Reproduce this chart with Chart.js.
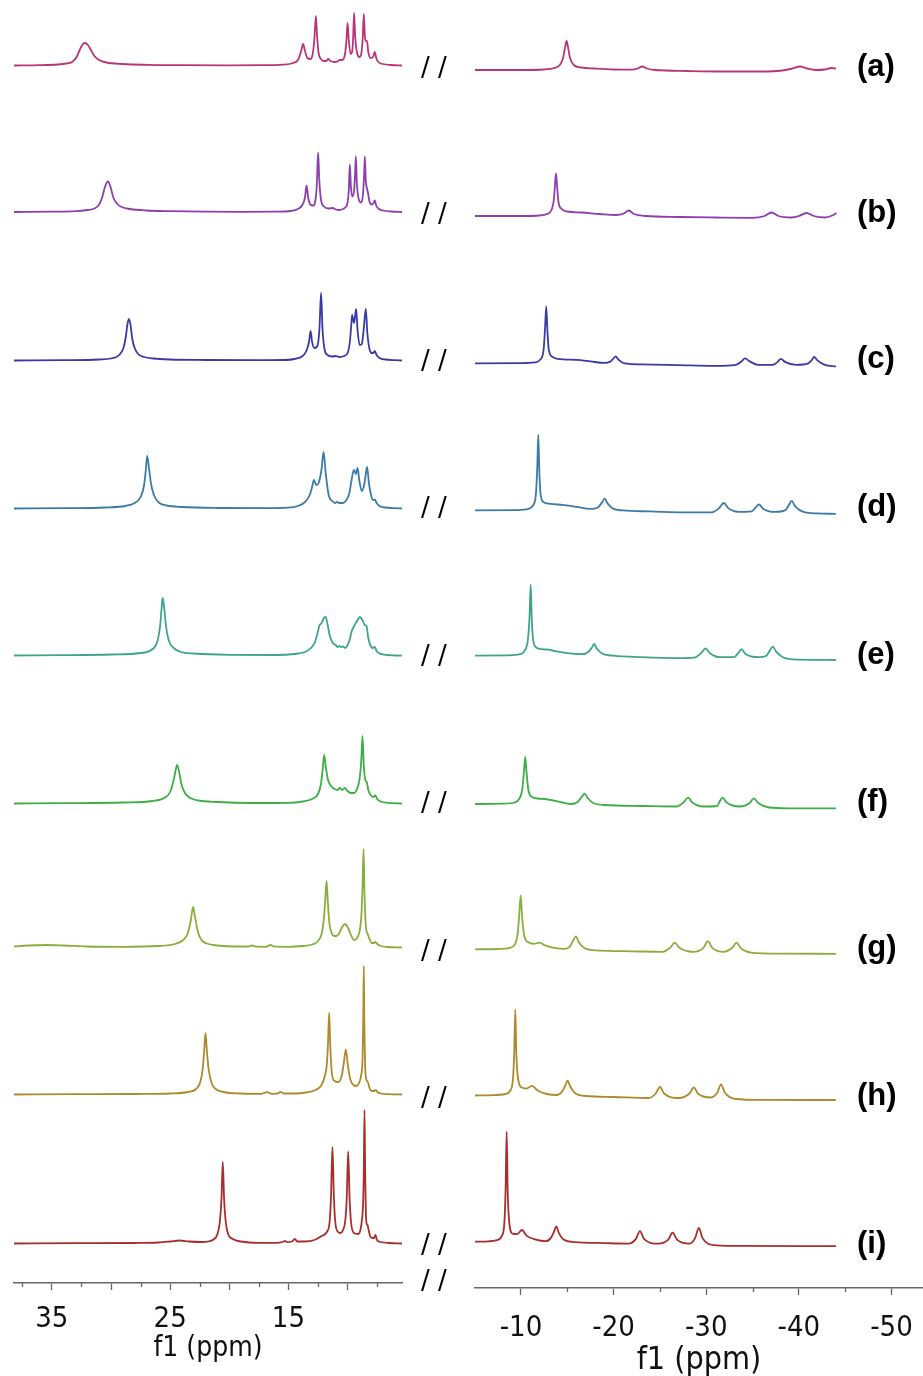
<!DOCTYPE html>
<html>
<head>
<meta charset="utf-8">
<script src="https://cdn.jsdelivr.net/npm/chart.js@4.4.0/dist/chart.umd.min.js"></script>
<style>
  body { margin: 0; background: #fff; overflow: hidden; }
  #wrap { position: relative; width: 923px; height: 1376px; }
  canvas { position: absolute; top: 0; }
  .lbl { position: absolute; left: 857px; height: 36px; line-height: 36px; font: bold 31px 'Liberation Sans', Arial, sans-serif; color: #000; }
  .brk { position: absolute; left: 421px; height: 30px; line-height: 30px; font: 26px 'DejaVu Sans', sans-serif; color: #000; white-space: pre; }
</style>
</head>
<body>
<div id="wrap">
  <canvas id="leftChart" width="460" height="1376" style="left:0px;width:460px;height:1376px"></canvas>
  <canvas id="rightChart" width="463" height="1376" style="left:460px;width:463px;height:1376px"></canvas>
</div>
<script>
// spectra: [ppm, intensity above baseline]
const aLeft = [[38.2,0.5],[36,0.8],[34.5,1.5],[33.8,2.5],[33.3,4],[32.9,9],[32.65,16],[32.4,21.5],[32.2,23],[31.95,21],[31.7,16],[31.4,10],[31.0,6],[30.4,3.5],[29,2],[27,1.2],[24,0.8],[20,0.6],[17,0.8],[15.5,1.3],[14.6,3],[14.2,6],[13.95,14],[13.76,22],[13.6,15],[13.4,8],[13.15,7],[12.95,12],[12.8,28],[12.68,50],[12.58,30],[12.45,13],[12.25,7],[12.0,5],[11.8,5],[11.64,7],[11.45,5],[11.1,4],[10.85,4.5],[10.66,6],[10.45,6],[10.22,12],[10.1,25],[10.0,43],[9.9,26],[9.75,12],[9.62,14],[9.53,28],[9.45,53],[9.36,30],[9.2,13],[9.0,9],[8.82,14],[8.72,28],[8.63,52],[8.54,30],[8.45,25],[8.36,25],[8.25,14],[8.05,8],[7.85,9],[7.7,14],[7.58,8],[7.4,4],[7.0,2],[6.3,1],[5.4,0.5]];
const bLeft = [[38.2,0.5],[35,0.8],[33,1.3],[32,2.5],[31.4,4],[31.0,8],[30.75,15],[30.5,26],[30.27,31],[30.05,26],[29.8,15],[29.5,9],[29.1,5.5],[28.4,3.5],[27,2],[25,1.3],[22,0.8],[19,0.6],[16,0.8],[14.8,1.5],[14.2,3.5],[13.8,8],[13.6,15],[13.47,27],[13.33,15],[13.15,8],[12.9,7],[12.72,12],[12.6,28],[12.49,60],[12.39,32],[12.25,13],[12.0,6],[11.6,4],[11.24,4.5],[11.0,3],[10.7,2.5],[10.4,3.5],[10.2,5],[10.0,10],[9.9,22],[9.81,48],[9.72,26],[9.6,16],[9.45,22],[9.36,40],[9.3,56],[9.22,30],[9.05,13],[8.85,10],[8.7,18],[8.6,38],[8.54,56],[8.46,32],[8.38,25],[8.28,20],[8.15,11],[7.95,8],[7.82,9],[7.7,12],[7.58,7],[7.4,4],[7.0,2],[6.3,1],[5.4,0.5]];
const cLeft = [[38.2,0.5],[34,0.8],[31,1.5],[30,2.5],[29.3,6],[28.95,13],[28.75,24],[28.62,36],[28.49,42],[28.35,36],[28.2,22],[28.0,13],[27.7,7],[27.2,4],[26.4,2.5],[25,1.5],[22,1],[18,0.8],[15.5,1],[14.5,2],[13.8,5],[13.45,11],[13.25,20],[13.13,30],[13.0,19],[12.8,13],[12.55,15],[12.38,32],[12.24,68],[12.12,32],[11.95,12],[11.7,6],[11.3,4.5],[11.0,5],[10.7,4],[10.3,5],[10.0,8],[9.82,18],[9.7,34],[9.62,46],[9.45,38],[9.28,52],[9.15,30],[8.98,16],[8.8,17],[8.65,30],[8.46,52],[8.33,28],[8.15,12],[7.95,8],[7.82,8],[7.7,10],[7.55,6],[7.3,3],[6.8,1.5],[6.0,0.8],[5.4,0.5]];
const dLeft = [[38.2,0.5],[34,0.8],[30.5,1.5],[28.8,3],[28,6],[27.5,12],[27.2,24],[27.05,40],[26.94,53],[26.8,42],[26.6,24],[26.3,12],[25.9,6],[25.3,3.5],[24,2],[21,1],[17,0.8],[15,1.3],[14.2,3],[13.6,7],[13.2,14],[13.0,22],[12.85,29],[12.65,24],[12.45,26],[12.2,40],[12.03,57],[11.85,36],[11.6,14],[11.3,8],[11.05,6],[10.88,7],[10.7,6],[10.4,6],[10.1,9],[9.85,16],[9.65,30],[9.47,39],[9.3,35],[9.16,41],[9.0,28],[8.8,18],[8.6,24],[8.45,36],[8.35,42],[8.2,26],[8.0,13],[7.85,9],[7.7,9.5],[7.55,6],[7.3,3],[6.8,1.5],[6.0,0.8],[5.4,0.5]];
const eLeft = [[38.2,0.5],[34,0.8],[30,1.5],[27.5,3],[26.6,6],[26.1,14],[25.85,30],[25.72,48],[25.64,58],[25.52,50],[25.35,30],[25.1,15],[24.7,8],[24.1,4],[23,2.5],[20,1.2],[16,1],[14.5,2],[13.6,4],[13.1,8],[12.75,14],[12.5,25],[12.4,30],[12.2,33],[12.0,38],[11.86,39],[11.7,32],[11.5,20],[11.25,13],[11.0,11],[10.85,9],[10.71,10],[10.55,9],[10.38,9.5],[10.2,8],[10.0,11],[9.8,17],[9.67,24],[9.45,30],[9.2,35],[8.96,39],[8.75,36],[8.55,31],[8.4,30],[8.25,18],[8.05,10],[7.85,8],[7.7,9],[7.55,5],[7.3,2.5],[6.8,1.2],[6.0,0.5],[5.4,0.3]];
const fLeft = [[38.2,0.5],[34,0.8],[29,1.5],[26.5,3],[25.5,6],[25.0,12],[24.7,24],[24.55,33],[24.41,39],[24.25,33],[24.05,20],[23.75,11],[23.3,6],[22.6,3.5],[21,2],[18,1],[15,1.2],[13.8,2.5],[13.0,5],[12.5,10],[12.25,20],[12.1,35],[11.98,49],[11.85,38],[11.65,24],[11.4,18],[11.1,15],[10.85,14],[10.66,16],[10.45,14],[10.23,16],[10.0,13],[9.75,11],[9.45,11],[9.2,15],[9.0,24],[8.85,42],[8.74,68],[8.63,38],[8.5,24],[8.38,22],[8.25,14],[8.05,9],[7.85,7],[7.64,8.5],[7.5,5],[7.2,2.5],[6.6,1.2],[5.4,0.5]];
const gLeft = [[38.2,1.5],[37,2.5],[35.5,3],[34,2.5],[32,1.5],[29,1.2],[26,2],[24.6,4],[23.9,8],[23.5,15],[23.25,28],[23.06,41],[22.88,30],[22.65,16],[22.35,8],[21.9,4.5],[21,2.5],[19.5,1.5],[18.4,1.5],[18.07,2.5],[17.7,1.3],[16.9,1.2],[16.51,3],[16.2,1.3],[15,1.2],[13.8,2],[13,3.5],[12.5,7],[12.2,14],[12.0,30],[11.88,50],[11.78,67],[11.68,48],[11.55,26],[11.35,15],[11.1,12],[10.93,12],[10.7,15],[10.45,21],[10.23,24],[10.0,21],[9.75,14],[9.55,9],[9.4,8],[9.2,10],[9.0,16],[8.85,30],[8.74,60],[8.65,99],[8.57,55],[8.47,24],[8.38,16],[8.3,14],[8.15,9],[7.95,5],[7.78,5],[7.64,6],[7.5,4],[7.2,2],[6.6,1],[5.4,0.5]];
const hLeft = [[38.2,0.5],[33,0.8],[28,1],[25,1.5],[23.5,3],[22.8,6],[22.45,13],[22.25,26],[22.12,45],[22.01,62],[21.9,45],[21.75,26],[21.5,12],[21.15,6],[20.5,3],[19,1.5],[17.3,1.2],[16.8,2.8],[16.4,1.2],[15.95,1.3],[15.67,3.2],[15.4,1.5],[14.5,1.5],[13.5,2.5],[12.7,5],[12.2,10],[11.9,20],[11.76,30],[11.66,50],[11.56,82],[11.46,48],[11.33,22],[11.1,14],[10.8,13],[10.5,19],[10.32,32],[10.15,45.5],[9.98,30],[9.78,16],[9.5,10],[9.25,9],[9.0,13],[8.85,20],[8.73,38],[8.68,72],[8.63,129],[8.58,68],[8.52,30],[8.44,17],[8.36,14],[8.28,13],[8.15,7],[7.95,4],[7.75,4],[7.61,5],[7.48,3],[7.2,1.5],[6.5,0.8],[5.4,0.5]];
const iLeft = [[38.2,0.5],[33,0.8],[28,1],[26,1.5],[25,2.5],[24.2,3.5],[23.4,2.5],[22.3,2],[21.4,4],[21.0,10],[20.8,22],[20.66,45],[20.55,82],[20.44,45],[20.3,22],[20.1,10],[19.7,5],[19,2.5],[17.5,1.2],[16,1.2],[15.5,2],[15.3,3],[15.1,1.8],[14.7,2.5],[14.46,5],[14.25,2.5],[13.6,2.5],[12.8,4],[12.2,8],[11.76,12],[11.52,22],[11.4,48],[11.28,97],[11.16,48],[11.04,22],[10.8,12],[10.6,11],[10.43,13],[10.19,24],[10.07,46],[9.95,92.5],[9.83,46],[9.71,22],[9.47,11],[9.1,10],[8.9,15],[8.76,27],[8.69,40],[8.63,72],[8.57,134],[8.51,68],[8.45,30],[8.38,20],[8.31,19],[8.24,15],[8.1,8],[7.9,6],[7.77,6],[7.64,9],[7.52,4],[7.2,2],[6.5,1],[5.4,0.5]];

const aRight = [[-5.04,0],[-10,0],[-12.5,0.5],[-13.6,2],[-14.2,5],[-14.55,12],[-14.75,22],[-14.93,29],[-15.1,22],[-15.3,12],[-15.7,5],[-16.5,2.5],[-18,1.5],[-20,0.5],[-22,0.3],[-22.6,1.5],[-23.09,3.5],[-23.6,1.5],[-24.5,0],[-28,-1],[-32,-1.5],[-36,-1.5],[-38.2,-0.5],[-39.3,1.5],[-40.1,3.5],[-40.9,1.5],[-41.8,0],[-42.8,0.5],[-43.5,2],[-44,1.5]];
const bRight = [[-5.04,0],[-10,0],[-12,0.5],[-12.8,2],[-13.3,6],[-13.55,16],[-13.68,32],[-13.78,42.7],[-13.9,30],[-14.05,14],[-14.4,7],[-15,4.5],[-16.5,3.5],[-18.5,2],[-20.3,1],[-21.1,2.5],[-21.65,5.5],[-22.2,2],[-23.5,0],[-27,-1],[-31,-1.5],[-35,-1.8],[-36.3,0],[-37.04,3.5],[-37.8,0],[-39.2,-1.5],[-40.0,0],[-40.82,3],[-41.6,0],[-42.8,-1.5],[-43.6,0.5],[-44.06,3]];
const cRight = [[-5.04,0],[-10,0.3],[-11.5,1],[-12.1,4],[-12.45,14],[-12.6,35],[-12.73,57],[-12.86,32],[-13.0,14],[-13.4,6.5],[-14,4.5],[-16,3.5],[-17.5,2],[-19,0.5],[-19.6,1.5],[-20.0,5],[-20.22,7],[-20.5,4],[-21.2,0],[-23,-1],[-27,-1.8],[-31,-2.5],[-33.2,-1.5],[-33.8,2],[-34.2,5],[-34.7,2],[-35.6,-1.5],[-37.2,-1.5],[-37.7,1.5],[-38.05,4.5],[-38.5,1.5],[-39.7,-1.5],[-41.0,0],[-41.4,3.5],[-41.64,6.5],[-42.0,3],[-42.8,-1.5],[-44,-3]];
const dRight = [[-5.04,0],[-9.5,0.3],[-10.8,1.5],[-11.3,5],[-11.6,15],[-11.75,40],[-11.87,75.6],[-11.99,38],[-12.15,14],[-12.5,8],[-13.2,6.5],[-14.5,5.5],[-16,3.5],[-17.5,1.5],[-18.3,3],[-18.75,8],[-19.03,11.7],[-19.35,7],[-19.9,2],[-21,0],[-24,-1],[-28,-2],[-30.6,-2],[-31.35,2],[-31.9,7.4],[-32.4,2],[-33.5,-1.5],[-34.9,-1],[-35.3,2.5],[-35.7,6],[-36.1,2],[-37.4,-1.5],[-38.5,0],[-38.9,5],[-39.23,9.5],[-39.6,4],[-40.5,-1.5],[-42,-3],[-44,-3.5]];
const eRight = [[-5.04,0],[-8.5,0.3],[-9.9,1.5],[-10.4,5],[-10.75,16],[-10.93,40],[-11.05,71],[-11.17,36],[-11.35,14],[-11.7,8],[-12.3,6.5],[-13.0,6],[-14,4],[-15.5,2],[-16.6,1.5],[-17.3,4],[-17.65,8],[-17.91,11.7],[-18.2,7],[-18.8,2],[-20,0],[-23,-1.5],[-27,-2.5],[-28.7,-2],[-29.45,2.5],[-29.92,7.4],[-30.4,2.5],[-31.5,-1.5],[-33.0,-1.5],[-33.45,2.5],[-33.81,6.5],[-34.2,2],[-35.7,-1.5],[-36.5,0],[-36.85,5],[-37.18,9.1],[-37.55,4],[-38.5,-2.5],[-40,-4],[-44,-4.3]];
const fRight = [[-5.04,0],[-8,0.3],[-9.3,1.5],[-9.8,5],[-10.15,15],[-10.32,32],[-10.46,47],[-10.6,32],[-10.8,14],[-11.2,7],[-11.8,5.5],[-12.6,5],[-13.5,3.5],[-14.5,1.5],[-15.5,0],[-16.1,2],[-16.55,7],[-16.87,10.4],[-17.2,6],[-17.8,1],[-19,-1],[-23,-2],[-26.8,-2.5],[-27.55,1.5],[-28.05,6.4],[-28.5,1.5],[-29.7,-2.5],[-31.2,-2],[-31.4,1.5],[-31.76,6.4],[-32.2,1.5],[-33.6,-2.5],[-34.7,1],[-35.13,5.6],[-35.6,1],[-36.8,-3.5],[-39,-4.3],[-44,-4.4]];
const gRight = [[-5.04,0],[-7.5,0.3],[-8.8,1.5],[-9.35,5],[-9.65,16],[-9.82,35],[-9.97,54],[-10.12,33],[-10.35,14],[-10.8,7],[-11.4,5.5],[-11.97,6.6],[-12.6,4],[-13.6,1.5],[-14.7,0.5],[-15.3,3],[-15.65,9],[-15.93,12.9],[-16.25,7],[-16.8,1.5],[-18,-1],[-22,-2],[-25.3,-2.5],[-26.1,1.5],[-26.61,6.6],[-27.1,1.5],[-28.6,-2.5],[-29.7,1.5],[-30.17,8.1],[-30.65,1.5],[-31.9,-2.5],[-32.8,1.5],[-33.27,6.6],[-33.75,1],[-35,-3.5],[-38,-4.3],[-44,-4.5]];
const hRight = [[-5.04,0],[-7,0.3],[-8.3,1.5],[-8.85,5],[-9.15,18],[-9.28,45],[-9.39,86],[-9.5,42],[-9.7,16],[-10.1,8],[-10.6,7],[-11.19,9.7],[-11.8,5],[-12.8,1.5],[-13.9,0.5],[-14.45,4],[-14.78,10],[-15.04,14.8],[-15.32,9],[-15.9,2],[-17,-0.5],[-20,-1.5],[-23.8,-2.5],[-24.55,2],[-25.0,8.5],[-25.45,2],[-27.0,-2.5],[-28.2,2],[-28.66,8.2],[-29.1,2],[-30.5,-2],[-31.2,3],[-31.6,11.1],[-32.0,3],[-33.2,-3.5],[-36,-4.4],[-44,-4.5]];
const iRight = [[-5.04,0],[-6.5,0.3],[-7.4,1.5],[-7.95,6],[-8.22,20],[-8.35,55],[-8.46,110],[-8.57,50],[-8.75,18],[-9.1,8],[-9.6,7.5],[-10.11,11.6],[-10.6,6],[-11.6,2],[-12.7,0.5],[-13.25,4],[-13.57,10],[-13.81,15.2],[-14.08,9],[-14.6,2],[-15.8,-0.5],[-19,-1.5],[-21.6,-2],[-22.4,2.5],[-22.84,10.4],[-23.3,2.5],[-24.8,-2],[-25.9,2],[-26.37,9],[-26.85,2],[-28.2,-2],[-28.8,3.5],[-29.2,13.6],[-29.6,3.5],[-30.8,-3.5],[-33,-4.3],[-44,-4.5]];

const traceNames = ['(a)', '(b)', '(c)', '(d)', '(e)', '(f)', '(g)', '(h)', '(i)'];
const traceColors = ['#b8357a', '#8e3fae', '#3a3aa5', '#3d7ba6', '#3ea58a', '#3fae46', '#8aae3c', '#ae8a2e', '#a82e2e'];

const leftMajor = [35, 30, 25, 20, 15, 10];
const leftMinor = [37.5, 32.5, 27.5, 22.5, 17.5, 12.5, 7.5];
const leftLabels = [35, 25, 15];
const rightMajor = [-10, -20, -30, -40, -50];
const rightMinor = [-15, -25, -35, -45];

// layout (pixel rows of each baseline)
const leftBase = [66, 212.5, 361, 509, 656, 804, 948, 1095, 1244];
const rightBase = [70, 216, 363.4, 510.4, 655.7, 804, 949.3, 1095.5, 1241.6];
const labelRows = [66, 212, 358, 506, 654, 801, 947, 1095, 1243];
const breakRows = [67, 213, 360, 507, 655, 802, 950, 1097, 1244, 1280];

const tickFont = "'DejaVu Sans Condensed', 'DejaVu Sans', sans-serif";

const minorTicks = {
  id: 'minorTicks',
  afterDraw(chart, args, opts) {
    const s = chart.scales.x;
    const ctx = chart.ctx;
    ctx.save();
    ctx.strokeStyle = '#666';
    ctx.lineWidth = 1.3;
    opts.values.forEach(v => {
      const px = Math.round(s.getPixelForValue(v)) + 0.5;
      ctx.beginPath();
      ctx.moveTo(px, s.top);
      ctx.lineTo(px, s.top + opts.len);
      ctx.stroke();
    });
    ctx.restore();
  }
};

function buildSets(traces, bases, bottom) {
  return traces.map((pts, i) => ({
    data: pts.map(p => ({ x: p[0], y: bottom - bases[i] + p[1] })),
    borderColor: traceColors[i],
    borderWidth: 1.8,
    pointRadius: 0,
    fill: false,
    cubicInterpolationMode: 'monotone'
  }));
}

function makeChart(id, cfg) {
  return new Chart(document.getElementById(id), {
    type: 'line',
    data: { datasets: buildSets(cfg.traces, cfg.bases, cfg.bottom) },
    options: {
      responsive: false,
      animation: false,
      events: [],
      layout: { padding: cfg.padding },
      plugins: {
        legend: { display: false },
        tooltip: { enabled: false },
        minorTicks: { values: cfg.minor, len: 4 }
      },
      scales: {
        x: {
          type: 'linear',
          reverse: true,
          min: cfg.min,
          max: cfg.max,
          afterBuildTicks: s => { s.ticks = cfg.major.map(v => ({ value: v })); },
          afterFit: s => {
            s.height = 1376 - cfg.bottom;
            s.paddingLeft = 0;
            s.paddingRight = 0;
          },
          ticks: {
            autoSkip: false,
            maxRotation: 0,
            padding: cfg.tickPad,
            color: '#111',
            font: { family: tickFont, size: cfg.tickSize },
            callback: v => cfg.labels.includes(v) ? String(v) : ''
          },
          grid: { drawOnChartArea: false, tickLength: 7, tickColor: '#666', tickWidth: 1.3 },
          border: { display: true, color: '#666', width: 1.5 },
          title: {
            display: true,
            text: 'f1 (ppm)',
            color: '#111',
            font: { family: tickFont, size: cfg.titleSize },
            padding: { top: 0, bottom: cfg.titlePad }
          }
        },
        y: { type: 'linear', display: false, min: 0, max: cfg.bottom }
      }
    },
    plugins: [minorTicks]
  });
}

makeChart('leftChart', {
  traces: [aLeft, bLeft, cLeft, dLeft, eLeft, fLeft, gLeft, hLeft, iLeft],
  bases: leftBase, bottom: 1283,
  padding: { left: 14, right: 58, top: 0, bottom: 0 },
  min: 5.4, max: 38.2,
  major: leftMajor, minor: leftMinor, labels: leftLabels,
  tickSize: 29, tickPad: 12, titleSize: 28, titlePad: 10
});

makeChart('rightChart', {
  traces: [aRight, bRight, cRight, dRight, eRight, fRight, gRight, hRight, iRight],
  bases: rightBase, bottom: 1288,
  padding: { left: 15, right: 0, top: 0, bottom: 0 },
  min: -53.4, max: -5.04,
  major: rightMajor, minor: rightMinor, labels: rightMajor,
  tickSize: 29, tickPad: 16, titleSize: 32, titlePad: -4
});

const wrap = document.getElementById('wrap');
traceNames.forEach((t, i) => {
  const d = document.createElement('div');
  d.className = 'lbl';
  d.style.top = (labelRows[i] - 18) + 'px';
  d.textContent = t;
  wrap.appendChild(d);
});
breakRows.forEach(y => {
  const d = document.createElement('div');
  d.className = 'brk';
  d.style.top = (y - 15) + 'px';
  d.textContent = '/ /';
  wrap.appendChild(d);
});
</script>
</body>
</html>
